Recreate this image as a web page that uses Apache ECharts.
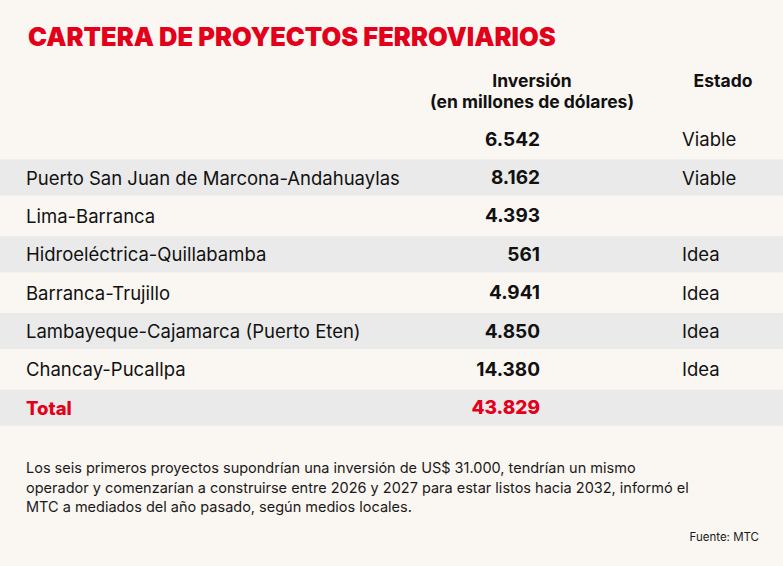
<!DOCTYPE html>
<html>
<head>
<meta charset="utf-8">
<script src="https://cdn.jsdelivr.net/npm/echarts@6/dist/echarts.min.js"></script>
<style>
    html, body { margin: 0; padding: 0; background: #faf6f1; }
    #chart { width: 783px; height: 566px; }
</style>
</head>
<body>
<div id="chart"></div>
<script>
const proyectos = ['', 'Puerto San Juan de Marcona-Andahuaylas', 'Lima-Barranca', 'Hidroeléctrica-Quillabamba',
    'Barranca-Trujillo', 'Lambayeque-Cajamarca (Puerto Eten)', 'Chancay-Pucallpa', 'Total'];
const inversion = ['6.542', '8.162', '4.393', '561', '4.941', '4.850', '14.380', '43.829'];
const estado = ['Viable', 'Viable', '', 'Idea', 'Idea', 'Idea', 'Idea', ''];
const nota = 'Los seis primeros proyectos supondrían una inversión de US$ 31.000, tendrían un mismo\n' +
    'operador y comenzarían a construirse entre 2026 y 2027 para estar listos hacia 2032, informó el\n' +
    'MTC a mediados del año pasado, según medios locales.';

const RED = '#e2001a';
const FONT = 'Inter';
const COL_NAME = 26, COL_VALUE = 540, COL_STATE = 682, WIDTH = 783;

const chart = echarts.init(document.getElementById('chart'), null, { renderer: 'svg' });

const rows = proyectos.map((p, i) => i);
const isTotal = i => proyectos[i] === 'Total';

// columna de texto sobre la rejilla (scatter invisible con etiqueta)
function textColumn(x, texts, position, extra) {
    return {
        type: 'scatter',
        symbolSize: 0,
        silent: true,
        itemStyle: { opacity: 1 },
        data: rows.map(i => ({
            value: [x, i],
            label: isTotal(i) ? { color: RED, fontWeight: 800 } : {}
        })),
        label: Object.assign({
            show: true, position: position, distance: 0,
            formatter: p => texts[p.dataIndex],
            color: '#111', fontSize: 18.5, fontFamily: FONT, opacity: 1
        }, extra)
    };
}

chart.setOption({
    backgroundColor: '#faf6f1',
    textStyle: { fontFamily: FONT },
    title: [
        {
            text: 'CARTERA DE PROYECTOS FERROVIARIOS',
            left: 23, top: 18,
            textStyle: { color: RED, fontSize: 25.5, fontWeight: 900, fontFamily: FONT }
        },
        {
            text: 'Inversión\n(en millones de dólares)',
            left: 527, top: 65, textAlign: 'center',
            textStyle: { color: '#111', fontSize: 17.5, fontWeight: 'bold', lineHeight: 21, align: 'center' }
        },
        {
            text: 'Estado',
            left: 718, top: 65, textAlign: 'center',
            textStyle: { color: '#111', fontSize: 17.5, fontWeight: 'bold', lineHeight: 21 }
        },
        {
            text: nota,
            left: 21, top: 453,
            textStyle: { color: '#1a1a1a', fontSize: 14.5, fontWeight: 'normal', lineHeight: 19.5 }
        },
        {
            text: 'Fuente: MTC',
            right: 19, top: 526,
            textStyle: { color: '#1a1a1a', fontSize: 11.5, fontWeight: 'normal' }
        }
    ],
    grid: { left: 0, right: 0, top: 120, height: 307 },
    xAxis: { type: 'value', min: 0, max: WIDTH, show: false },
    yAxis: { type: 'category', data: rows, inverse: true, show: false },
    series: [
        {
            // bandas grises alternas
            type: 'bar',
            barWidth: 36,
            silent: true,
            itemStyle: { color: '#eaeaea' },
            data: rows.map(i => (i % 2 === 1 ? WIDTH : '-'))
        },
        textColumn(COL_NAME, proyectos, 'right', {}),
        textColumn(COL_VALUE, inversion, 'left', { fontWeight: 'bold', fontSize: 19 }),
        textColumn(COL_STATE, estado, 'right', {})
    ]
});

window.addEventListener('resize', () => chart.resize());
</script>
</body>
</html>
